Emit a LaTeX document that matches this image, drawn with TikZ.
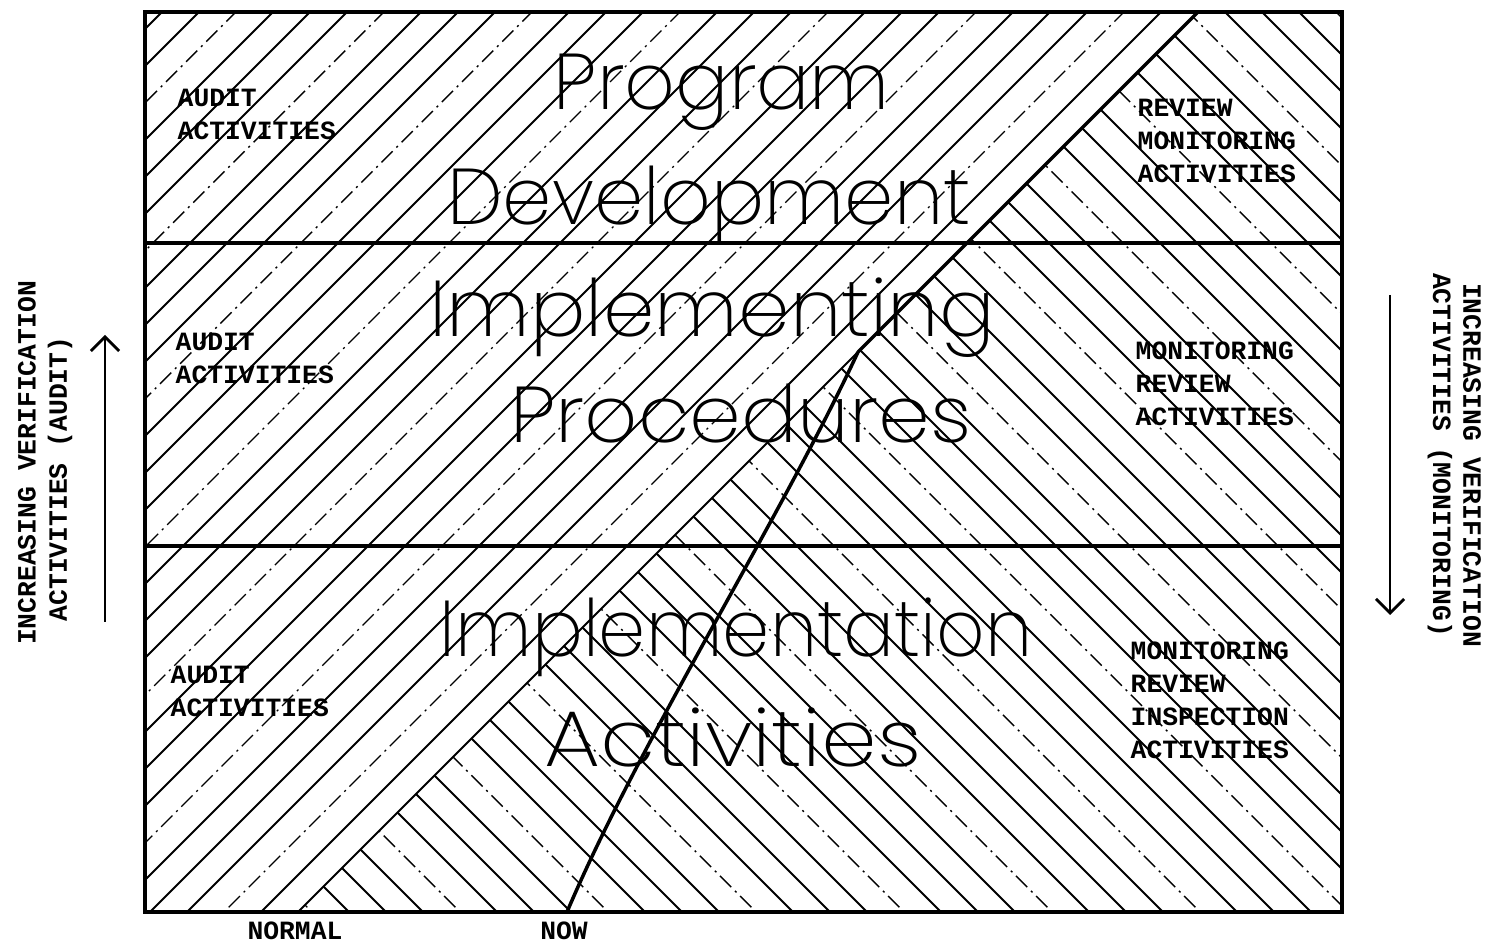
\documentclass[tikz,border=0pt]{standalone}
\usepackage{fontspec}
\usetikzlibrary{arrows.meta}
\IfFontExistsTF{Poppins ExtraLight}
  {\newfontfamily\bigfont{Poppins ExtraLight}}
  {\newfontfamily\bigfont{Poppins Light}}
\newfontfamily\typfont{Liberation Mono}

\tikzset{
  hatch/.style={line width=0.55pt},
  chain/.style={line width=0.4pt, dash pattern=on 4.5pt off 1.5pt on 0.6pt off 1.5pt},
  frame/.style={line width=1pt},
  title/.style={font=\bigfont\fontsize{22.5}{27}\selectfont, anchor=base, inner sep=0pt},
  note/.style={font=\typfont\bfseries\fontsize{7.5}{9.4}\selectfont, align=left, anchor=base west, inner sep=0pt},
  side/.style={font=\typfont\bfseries\fontsize{7.5}{9}\selectfont, inner sep=0pt},
  vtip/.style={-{Straight Barb[length=4pt,width=8pt]}, line width=0.8pt},
}

\begin{document}
\begin{tikzpicture}[x=0.1mm, y=-0.1mm]
\useasboundingbox (0,0) rectangle (1494,947);

% Cornice
\coordinate (tl) at (145,12);
\coordinate (tr) at (1342,12);
\coordinate (br) at (1342,912);
\coordinate (bl) at (145,912);
\coordinate (top) at (1198,12);
\coordinate (normal) at (298,912);
\coordinate (now) at (567,912);
\coordinate (tip) at (858,352);

% Tratteggio /
\begin{scope}
\clip (tl) -- (top) -- (tip) .. controls (780,520) and (640,740) .. (now) -- (bl) -- cycle;
\foreach \k in {1,...,29}{
  \pgfmathtruncatemacro\m{mod(\k,4)}
  \pgfmathsetmacro\s{1210-37*\k}
  \ifnum\m=2
    \draw[chain] (\s+50,-50) -- (\s-1000,1000);
  \else
    \draw[hatch] (\s+50,-50) -- (\s-1000,1000);
  \fi
}
\end{scope}

% Tratteggio \
\begin{scope}
\clip (top) -- (tr) -- (br) -- (normal) -- cycle;
\foreach \k in {-4,...,50}{
  \pgfmathtruncatemacro\m{mod(\k+8,4)}
  \pgfmathsetmacro\s{1213-37*\k}
  \ifnum\m=1
    \draw[chain] (\s-50,-50) -- (\s+1000,1000);
  \else
    \draw[hatch] (\s-50,-50) -- (\s+1000,1000);
  \fi
}
\end{scope}

% Limiti
\draw[hatch] (top) -- (normal);
\draw[frame] (top) -- (tip);
\draw[frame] (now) .. controls (640,740) and (780,520) .. (tip);

% Righe
\coordinate (r1l) at (145,243);
\coordinate (r1r) at (1342,243);
\coordinate (r2l) at (145,546);
\coordinate (r2r) at (1342,546);
\draw[frame] (r1l) -- (r1r);
\draw[frame] (r2l) -- (r2r);
\draw[frame] (tl) rectangle (br);

% Titoli
\node[title] (prog) at (722,110) {Program};
\node[title] (dev) at (709,225) {Development};
\node[title, xscale=1.045] (impl) at (712,337) {Implementing};
\node[title, xscale=1.05] (proc) at (741,443) {Procedures};
\node[title, xscale=0.956] (implt) at (736,657) {Implementation};
\node[title, xscale=1.13] (act) at (733,767) {Activities};

% Attivita
\node[note] (aud1) at (177,140) {AUDIT\\ACTIVITIES};
\node[note] (aud2) at (175,384) {AUDIT\\ACTIVITIES};
\node[note] (aud3) at (170,717) {AUDIT\\ACTIVITIES};
\node[note] (mon1) at (1137,183) {REVIEW\\MONITORING\\ACTIVITIES};
\node[note] (mon2) at (1135,426) {MONITORING\\REVIEW\\ACTIVITIES};
\node[note] (mon3) at (1130,759) {MONITORING\\REVIEW\\INSPECTION\\ACTIVITIES};
\node[note, anchor=base] (norm) at (295,940) {NORMAL};
\node[note, anchor=base] (nowl) at (564,940) {NOW};

% Frecce laterali
\node[side, rotate=90] (incl) at (27,463) {INCREASING VERIFICATION};
\node[side, rotate=90] (actl) at (60,479) {ACTIVITIES (AUDIT)};
\node[side, rotate=-90] (incr) at (1472,465) {INCREASING VERIFICATION};
\node[side, rotate=-90] (actr) at (1440,455) {ACTIVITIES (MONITORING)};
\coordinate (la0) at (105,622);
\coordinate (la1) at (105,335);
\coordinate (ra0) at (1390,295);
\coordinate (ra1) at (1390,615);
\draw[vtip] (la0) -- (la1);
\draw[vtip] (ra0) -- (ra1);
\end{tikzpicture}
\end{document}
